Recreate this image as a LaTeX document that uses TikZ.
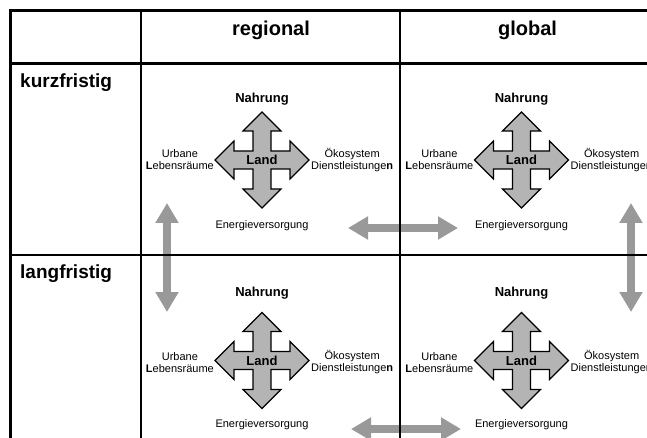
\documentclass[tikz,border=0pt]{standalone}
\usepackage{fontspec}
\setmainfont{Liberation Sans}
\usetikzlibrary{positioning, arrows.meta}

\definecolor{crossgray}{HTML}{B4B4B4}
\definecolor{arrowgray}{HTML}{999999}

% cross shaped double arrow round a centre coordinate
\newcommand{\landcross}[1]{%
    \filldraw [cross, shift={(#1)}]
        (0,-48) -- (19,-29) -- (9,-29) -- (9,-9) -- (28,-9) -- (28,-19)
        -- (47,0) -- (28,19) -- (28,9) -- (9,9) -- (9,29) -- (19,29)
        -- (0,48) -- (-19,29) -- (-9,29) -- (-9,9) -- (-28,9) -- (-28,19)
        -- (-47,0) -- (-28,-19) -- (-28,-9) -- (-9,-9) -- (-9,-29) -- (-19,-29)
        -- cycle;}

\begin{document}
\begin{tikzpicture}[x=1pt, y=-1pt,
        header/.style={font=\fontsize{20}{24}\selectfont\bfseries, inner sep=0},
        rowlabel/.style={font=\fontsize{19}{23}\selectfont\bfseries, inner sep=0, anchor=west},
        land/.style={font=\fontsize{13}{15}\selectfont\bfseries, inner sep=0},
        topic/.style={font=\fontsize{13}{15}\selectfont\bfseries, inner sep=0},
        small/.style={font=\fontsize{11}{12}\selectfont, inner sep=0, align=center},
        cross/.style={fill=crossgray, draw=black, line width=1.2pt},
        grid/.style={draw=black, line width=2.2pt},
        bigarrow/.style={draw=arrowgray, line width=8pt,
            {Triangle[width=22pt, length=20pt]}-{Triangle[width=22pt, length=20pt]}}]

    \useasboundingbox (0,0) rectangle (647,438);
    \clip (0,0) rectangle (647,438);

    % grey arrows between the cells
    \coordinate (vl1) at (167,203);
    \coordinate (vl2) at (167,312);
    \coordinate (vr1) at (631,203);
    \coordinate (vr2) at (631,312);
    \coordinate (hu1) at (348,228);
    \coordinate (hu2) at (458,228);
    \coordinate (hl1) at (351,429);
    \coordinate (hl2) at (461,429);

    \draw [bigarrow] (vl1) -- (vl2);
    \draw [bigarrow] (vr1) -- (vr2);
    \draw [bigarrow] (hu1) -- (hu2);
    \draw [bigarrow] (hl1) -- (hl2);

    % table
    \draw [grid, line width=3pt] (10,11) -- (660,11);
    \draw [grid, line width=3pt] (10,64) -- (660,64);
    \draw [grid] (10,255) -- (660,255);
    \draw [grid, line width=3pt] (10,9.5) -- (10,445);
    \draw [grid] (141,11) -- (141,445);
    \draw [grid] (400,11) -- (400,445);

    \node [header] (reg) at (271,30) {regional};
    \node [header] (glob) at (527.5,30) {global};
    \node [rowlabel] (kurz) at (20,83) {kurzfristig};
    \node [rowlabel] (lang) at (20,274) {langfristig};

    % kurzfristig, regional
    \coordinate (c11) at (262,160);
    \landcross{c11}
    \node [land] (L11) at (c11) {Land};
    \node [topic, above=55pt of c11] (N11) {Nahrung};
    \node [small, below=60pt of c11] (E11) {Energieversorgung};
    \node [small, left=48pt of c11] (U11) {Urbane\\\textbf{L}ebensräume};
    \node [small, right=49pt of c11] (O11) {Ökosystem\\Dienstleistunge\textbf{n}};

    % kurzfristig, global
    \coordinate (c12) at (521.5,160);
    \landcross{c12}
    \node [land] (L12) at (c12) {Land};
    \node [topic, above=55pt of c12] (N12) {Nahrung};
    \node [small, below=60pt of c12] (E12) {Energieversorgung};
    \node [small, left=48pt of c12] (U12) {Urbane\\\textbf{L}ebensräume};
    \node [small, right=49pt of c12] (O12) {Ökosystem\\Dienstleistunge\textbf{n}};

    % langfristig, regional
    \coordinate (c21) at (262,360.5);
    \landcross{c21}
    \node [land] (L21) at (c21) {Land};
    \node [topic, above=61pt of c21] (N21) {Nahrung};
    \node [small, below=59pt of c21] (E21) {Energieversorgung};
    \node [small, left=48pt of c21, yshift=-2pt] (U21) {Urbane\\\textbf{L}ebensräume};
    \node [small, right=49pt of c21, yshift=-2pt] (O21) {Ökosystem\\Dienstleistunge\textbf{n}};

    % langfristig, global
    \coordinate (c22) at (521.5,360.5);
    \landcross{c22}
    \node [land] (L22) at (c22) {Land};
    \node [topic, above=61pt of c22] (N22) {Nahrung};
    \node [small, below=59pt of c22] (E22) {Energieversorgung};
    \node [small, left=48pt of c22, yshift=-2pt] (U22) {Urbane\\\textbf{L}ebensräume};
    \node [small, right=49pt of c22, yshift=-2pt] (O22) {Ökosystem\\Dienstleistunge\textbf{n}};

\end{tikzpicture}
\end{document}
